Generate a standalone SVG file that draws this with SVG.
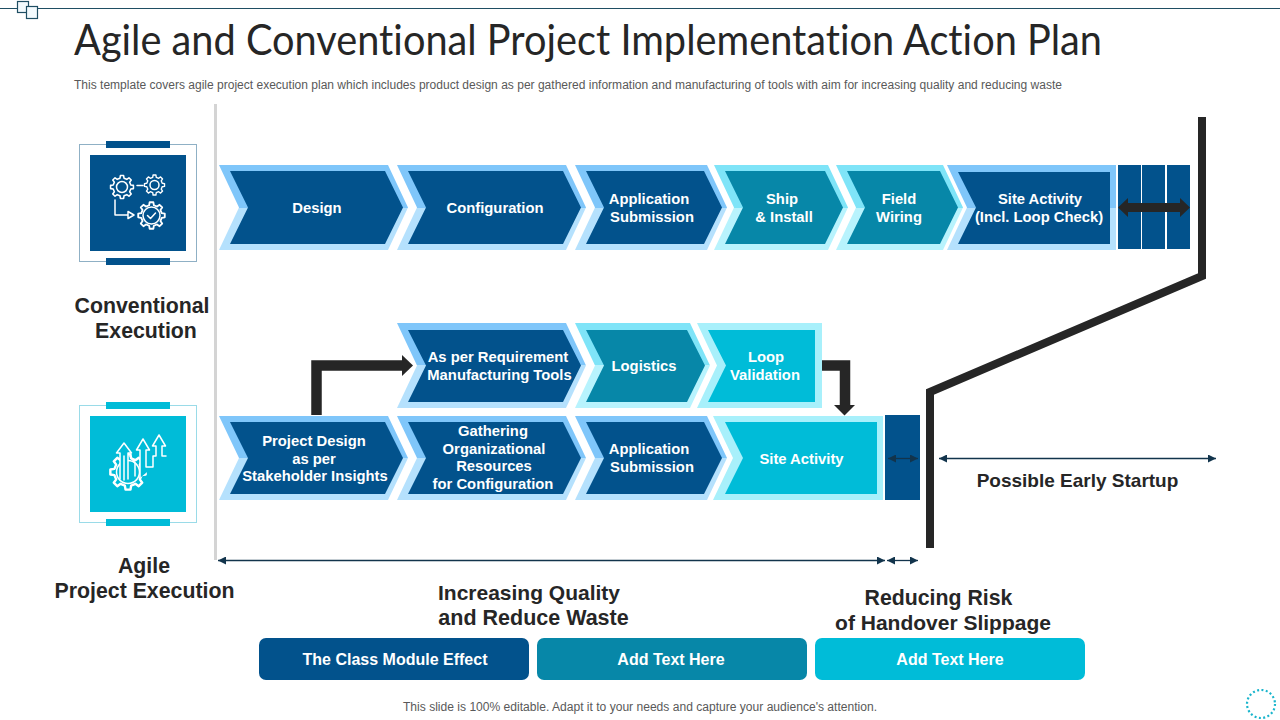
<svg xmlns="http://www.w3.org/2000/svg" width="1280" height="720" viewBox="0 0 1280 720">
<style>
text{font-family:"Liberation Sans",Arial,sans-serif}
.t{font-size:14.8px;font-weight:700;fill:#fff;text-anchor:middle}
.h{font-size:21px;font-weight:700;fill:#262626;text-anchor:middle}
.btn{font-size:16px;font-weight:700;fill:#fff;text-anchor:middle}
.sm{font-size:12px;fill:#595959}
.navy{fill:#02528c}.teal{fill:#0787a8}.cyan{fill:#00bcd8}
.bB{fill:url(#gB)}.bT{fill:url(#gT)}.bC{fill:#a8f0fb}
.ic{fill:none;stroke:#fff;stroke-width:1.5;stroke-linejoin:round;stroke-linecap:round}
.gear{stroke:#fff;stroke-width:1.5;stroke-linejoin:round;vector-effect:non-scaling-stroke}
.thick{fill:none;stroke:#262626}
.thin{fill:none;stroke:#12344c;stroke-width:1.3;marker-start:url(#ms);marker-end:url(#me)}
</style>
<defs>
<linearGradient id="gB" x1="0" y1="0" x2="0" y2="1"><stop offset=".5" stop-color="#7fc6fa"/><stop offset=".5" stop-color="#b5e1fd"/></linearGradient>
<linearGradient id="gT" x1="0" y1="0" x2="0" y2="1"><stop offset=".5" stop-color="#7fe4f8"/><stop offset=".5" stop-color="#b8f3fd"/></linearGradient>
<marker id="me" markerUnits="userSpaceOnUse" markerWidth="9" markerHeight="9" refX="8" refY="4" orient="auto"><path d="M0 0L8 4L0 8Z" fill="#12344c"/></marker>
<marker id="ms" markerUnits="userSpaceOnUse" markerWidth="9" markerHeight="9" refX="0" refY="4" orient="auto"><path d="M8 0L0 4L8 8Z" fill="#12344c"/></marker>
<polygon id="gear" points="8.38,-1.93 10.89,-1.53 10.89,1.53 8.38,1.93 7.29,4.56 8.78,6.62 6.62,8.78 4.56,7.29 1.93,8.38 1.53,10.89 -1.53,10.89 -1.93,8.38 -4.56,7.29 -6.62,8.78 -8.78,6.62 -7.29,4.56 -8.38,1.93 -10.89,1.53 -10.89,-1.53 -8.38,-1.93 -7.29,-4.56 -8.78,-6.62 -6.62,-8.78 -4.56,-7.29 -1.93,-8.38 -1.53,-10.89 1.53,-10.89 1.93,-8.38 4.56,-7.29 6.62,-8.78 8.78,-6.62 7.29,-4.56"/>
</defs>

<g id="header">
<line x1="0" y1="8.5" x2="1280" y2="8.5" stroke="#1f4e63" stroke-width="1.2"/>
<rect x="17.5" y="1.5" width="11" height="11" fill="#f3fafd" stroke="#1f4e63" stroke-width="1.2"/>
<rect x="26.5" y="6.5" width="11" height="12" fill="#f3fafd" stroke="#1f4e63" stroke-width="1.2"/>
<text x="74" y="55" font-size="42" fill="#262626" style="font-family:Lato,'Open Sans',sans-serif;font-variant-ligatures:none" textLength="1028" lengthAdjust="spacingAndGlyphs">Agile and Conventional Project Implementation Action Plan</text>
<text class="sm" x="74" y="89" textLength="988" lengthAdjust="spacingAndGlyphs">This template covers agile project execution plan which includes product design as per gathered information and manufacturing of tools with aim for increasing quality and reducing waste</text>
<rect x="214" y="104" width="3" height="456" fill="#d4d4d4"/>
</g>

<g id="icon-conventional">
<rect x="79.500" y="144.500" width="117" height="117" fill="none" stroke="#8fb0c5" stroke-width="1"/>
<rect x="106" y="141" width="64" height="7" class="navy"/>
<rect x="106" y="258" width="64" height="7" class="navy"/>
<rect x="90" y="155" width="96" height="96" class="navy"/>
<use href="#gear" class="gear" fill="none" transform="translate(122 187) scale(1.05)"/>
<circle class="ic" cx="122" cy="187" r="5.500"/>
<use href="#gear" class="gear" fill="none" transform="translate(154.500 185) scale(.92)"/>
<circle class="ic" cx="154.500" cy="185" r="4.500"/>
<use href="#gear" class="gear" fill="none" transform="translate(151.500 215.500) scale(1.22)"/>
<circle class="ic" cx="151.500" cy="215.500" r="8.500"/>
<path class="ic" d="M137 185.500H143M115 200V215H128M128 211.500L134 215L128 218.500Z"/>
<path class="ic" d="M147.500 215.500L150.500 218.500L155.500 213"/>
</g>
<g id="icon-agile">
<rect x="79.500" y="405.500" width="117" height="117" fill="none" stroke="#9adbe8" stroke-width="1"/>
<rect x="106" y="402" width="64" height="7" class="cyan"/>
<rect x="106" y="519" width="64" height="7" class="cyan"/>
<rect x="90" y="416" width="96" height="96" class="cyan"/>
<use href="#gear" class="gear" fill="none" transform="translate(128 472) scale(1.62)"/>
<circle class="ic" cx="128" cy="472" r="11.500"/>
<path class="ic" fill="#00bcd8" style="fill:#00bcd8" d="M120 479V453H116.500L124 443L131.500 453H128V479"/>
<path class="ic" d="M124 456V480M130 456L135 463V476"/>
<path class="ic" style="fill:#00bcd8" d="M140 478V450H136.500L143 439L149.500 450H146V467H153V456H156V446H152.500L159 435L165.500 446H162V456H166"/>
</g>
<text class="h" x="142" y="313" style="font-size:21.3px">Conventional</text><text class="h" x="146" y="338" style="font-size:21.3px">Execution</text>
<text class="h" x="144" y="573" style="font-size:21.3px">Agile</text><text class="h" x="144.500" y="598" style="font-size:21.3px">Project Execution</text>

<g id="n-design"><path class="bB" d="M219 165H388L408 207.500L388 250H219L239 207.500Z"/><path class="navy" d="M230 171H385L403 207.500L385 244H230L248 207.500Z"/><text class="t" x="317" y="213">Design</text></g>
<g id="n-configuration"><path class="bB" d="M397 165H566L586 207.500L566 250H397L417 207.500Z"/><path class="navy" d="M408 171H563L581 207.500L563 244H408L426 207.500Z"/><text class="t" x="495" y="213">Configuration</text></g>
<g id="n-application-1"><path class="bB" d="M575 165H707L727 207.500L707 250H575L595 207.500Z"/><path class="navy" d="M586 171H704L722 207.500L704 244H586L604 207.500Z"/><text class="t" x="649" y="204">Application</text><text class="t" x="652" y="222">Submission</text></g>
<g id="n-ship"><path class="bT" d="M714 165H828L848 207.500L828 250H714L734 207.500Z"/><path class="teal" d="M725 171H825L843 207.500L825 244H725L743 207.500Z"/><text class="t" x="782" y="204">Ship</text><text class="t" x="784" y="222">&amp; Install</text></g>
<g id="n-field"><path class="bT" d="M836 165H943L963 207.500L943 250H836L856 207.500Z"/><path class="teal" d="M847 171H940L958 207.500L940 244H847L865 207.500Z"/><text class="t" x="899" y="204">Field</text><text class="t" x="899" y="222">Wiring</text></g>
<g id="n-site-1"><path class="bB" d="M947 165H1116V250H947L967 207.500Z"/><path class="navy" d="M958 172H1110V244H958L976 207.500Z"/><text class="t" x="1040" y="204">Site Activity</text><text class="t" x="1039" y="222">(Incl. Loop Check)</text></g>
<g id="n-buffer-1"><rect x="1118" y="165" width="23" height="84" class="navy"/><rect x="1142" y="165" width="23" height="84" class="navy"/><rect x="1167" y="165" width="23" height="84" class="navy"/></g>

<g id="n-manufacturing"><path class="bB" d="M397 323H566L586 365.500L566 408H397L417 365.500Z"/><path class="navy" d="M408 330H563L581 365.500L563 402H408L426 365.500Z"/><text class="t" x="498" y="362">As per Requirement</text><text class="t" x="499.500" y="380">Manufacturing Tools</text></g>
<g id="n-logistics"><path class="bT" d="M575 323H690L710 365.500L690 408H575L595 365.500Z"/><path class="teal" d="M586 330H687L705 365.500L687 402H586L604 365.500Z"/><text class="t" x="644" y="371">Logistics</text></g>
<g id="n-loop"><path class="bC" d="M697 323H822V408H697L717 365.500Z"/><path class="cyan" d="M708 330H815V402H708L726 365.500Z"/><text class="t" x="766" y="362">Loop</text><text class="t" x="765" y="380">Validation</text></g>

<g id="n-project"><path class="bB" d="M219 416H388L408 458L388 500H219L239 458Z"/><path class="navy" d="M230 422H385L403 458L385 494H230L248 458Z"/><text class="t" x="314" y="446">Project Design</text><text class="t" x="314" y="464">as per</text><text class="t" x="315" y="481">Stakeholder Insights</text></g>
<g id="n-gathering"><path class="bB" d="M397 416H566L586 458L566 500H397L417 458Z"/><path class="navy" d="M408 422H563L581 458L563 494H408L426 458Z"/><text class="t" x="493" y="436">Gathering</text><text class="t" x="494" y="454">Organizational</text><text class="t" x="494" y="471">Resources</text><text class="t" x="493" y="489">for Configuration</text></g>
<g id="n-application-2"><path class="bB" d="M575 416H707L727 458L707 500H575L595 458Z"/><path class="navy" d="M586 422H704L722 458L704 494H586L604 458Z"/><text class="t" x="649" y="454">Application</text><text class="t" x="652" y="472">Submission</text></g>
<g id="n-site-2"><path class="bC" d="M713 416H883V500H713L733 458Z"/><path class="cyan" d="M725 422H877V494H725L743 458Z"/><text class="t" x="801.500" y="464">Site Activity</text></g>
<g id="n-buffer-2"><rect x="885" y="415" width="35" height="85" class="navy"/></g>

<g id="connectors">
<path class="thick" stroke-width="8" stroke-miterlimit="10" d="M1202 117V276L930 392V548"/>
<path fill="#262626" d="M1118 207.500L1128 198V203H1180V198L1190 207.500L1180 217V212H1128V217Z"/>
<path class="thick" stroke-width="10.500" d="M316.500 415V365.500H403"/>
<path fill="#262626" d="M402 355L413 365.500L402 376Z"/>
<path class="thick" stroke-width="10.500" d="M822 365.500H845V405"/>
<path fill="#262626" d="M834 405H855L844.500 415.500Z"/>
<path class="thin" d="M888 458.500H918"/>
<path class="thin" d="M939 458.500H1216"/>
<path class="thin" d="M218 560.500H885"/>
<path class="thin" d="M887 560.500H918"/>
</g>

<g id="labels">
<text class="h" x="529" y="600">Increasing Quality</text><text class="h" x="533.500" y="625" style="font-size:21.500px">and Reduce Waste</text>
<text class="h" x="938.500" y="605" style="font-size:21.300px">Reducing Risk</text><text class="h" x="943" y="630">of Handover Slippage</text>
<text class="h" x="1077.500" y="487" style="font-size:19px">Possible Early Startup</text>
</g>

<g id="btn-1"><rect x="259" y="638" width="270" height="42" rx="7" class="navy"/><text class="btn" x="395" y="665">The Class Module Effect</text></g>
<g id="btn-2"><rect x="537" y="638" width="270" height="42" rx="7" class="teal"/><text class="btn" x="671" y="665">Add Text Here</text></g>
<g id="btn-3"><rect x="815" y="638" width="270" height="42" rx="7" class="cyan"/><text class="btn" x="950" y="665">Add Text Here</text></g>

<text class="sm" x="403" y="711" textLength="474" lengthAdjust="spacingAndGlyphs">This slide is 100% editable. Adapt it to your needs and capture your audience's attention.</text>
<circle id="loader" cx="1261" cy="704" r="14" fill="none" stroke="#19b5cc" stroke-width="2.200" stroke-dasharray="2 2.400"/>
</svg>
